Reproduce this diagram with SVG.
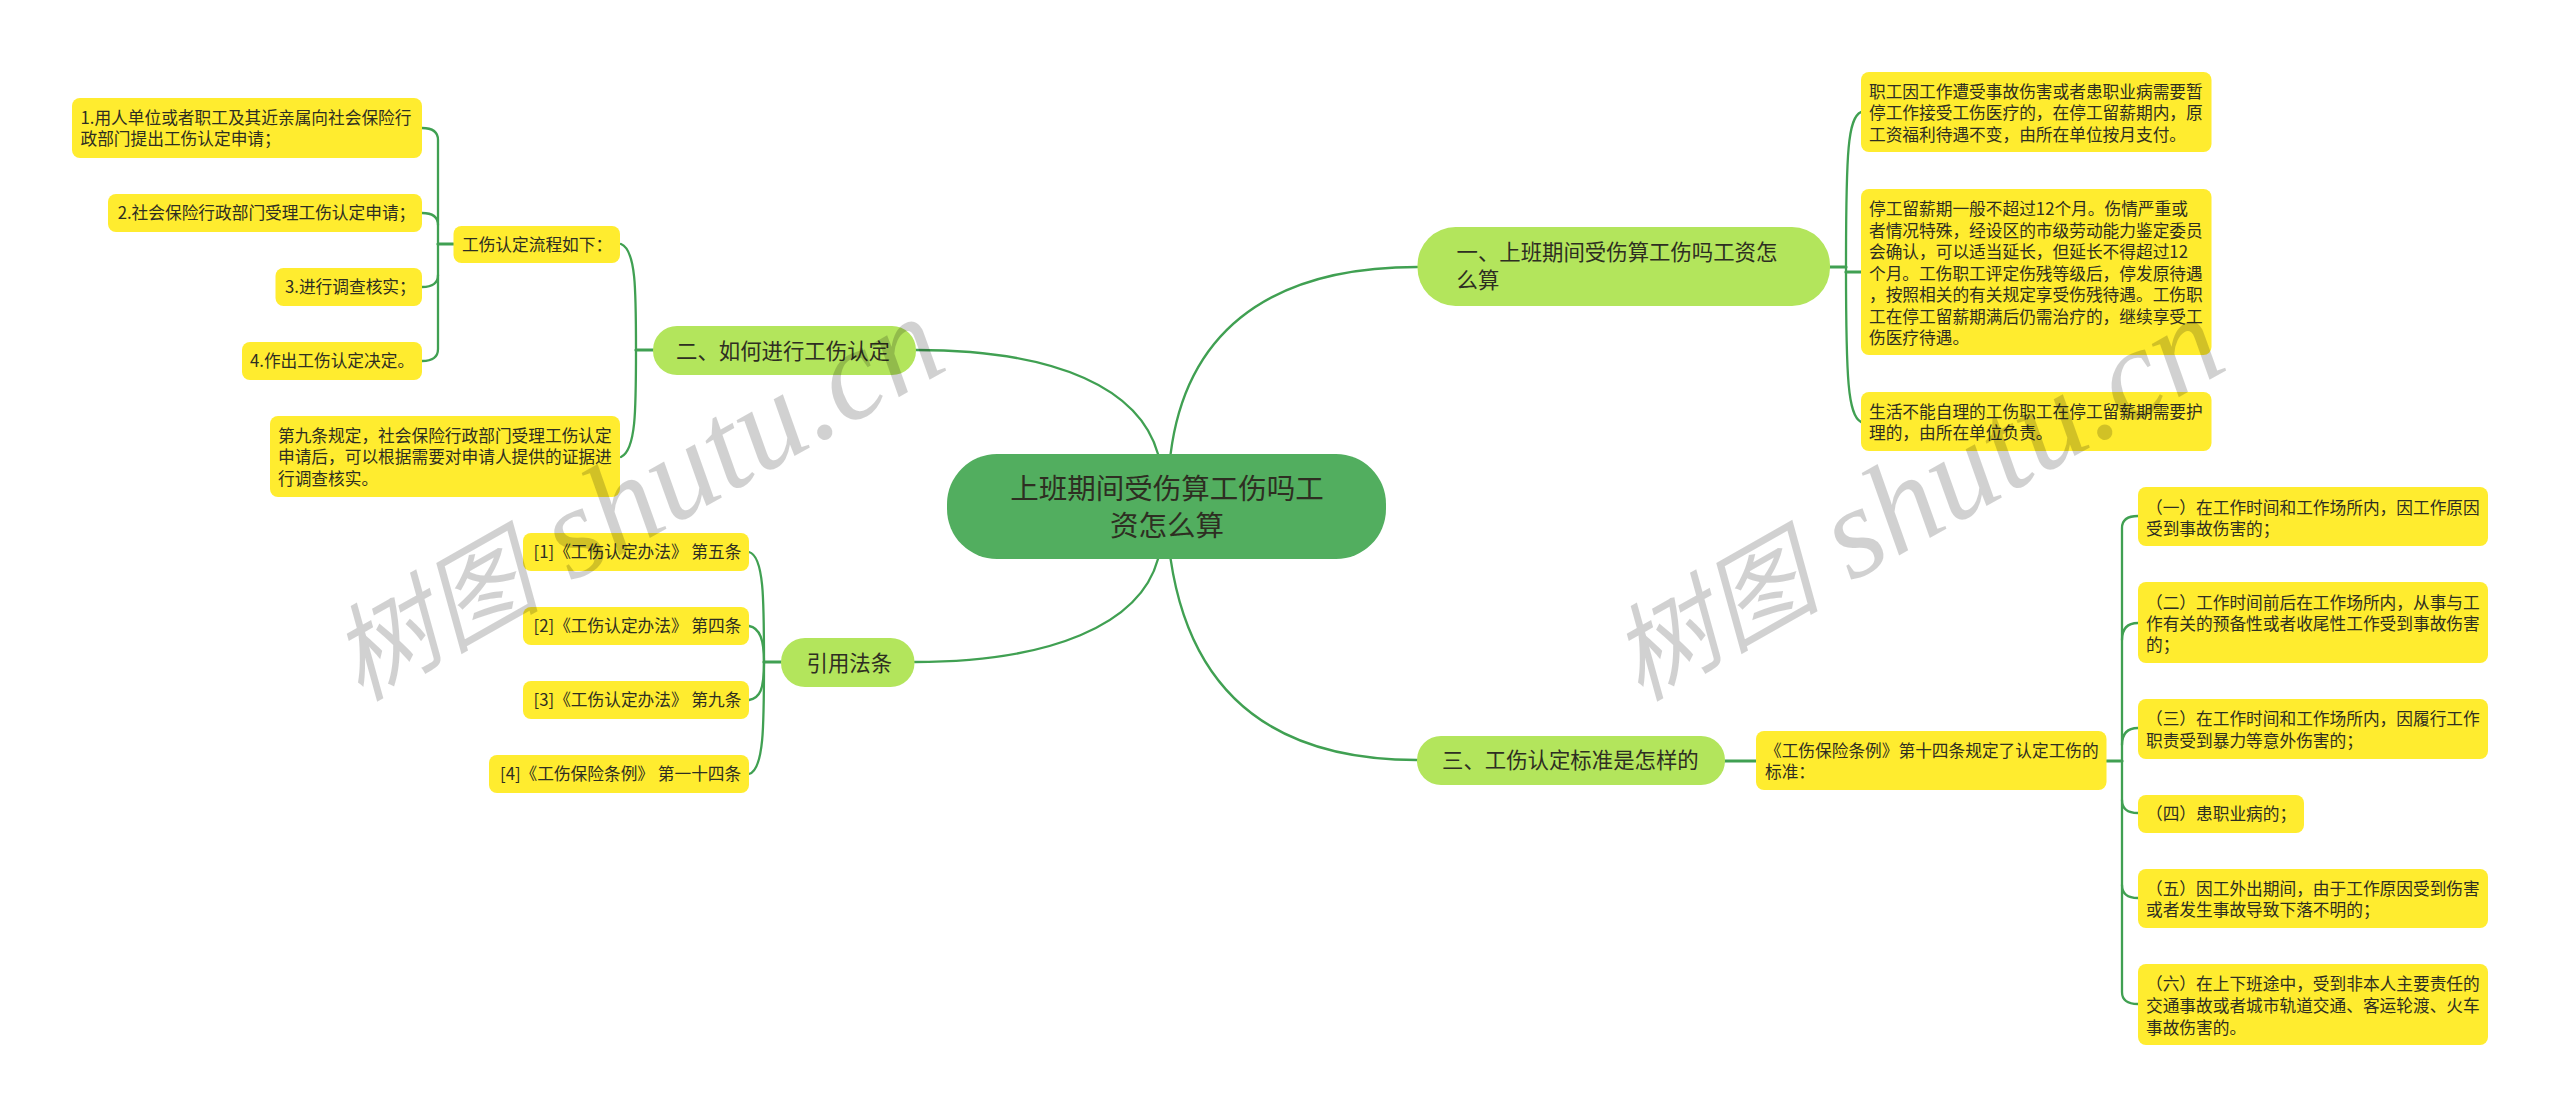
<svg xmlns="http://www.w3.org/2000/svg" width="2560" height="1117" viewBox="0 0 2560 1117">
<style>
text{font-family:"Noto Sans CJK SC","Noto Sans",sans-serif;fill:#2E2E22;}
.y{fill:#FFEC2F;}
.g{fill:#B3E55C;}
.r{fill:#52AE5F;}
.s text{font-size:16.7px;}
.m text{font-size:21.4px;}
.t text{font-size:28.5px;}
#connectors path{fill:none;stroke:#40A052;stroke-width:2.300;stroke-linecap:round;}
#connectors path.k{stroke-width:3.200;}
.wm{font-family:"Liberation Serif","Noto Sans CJK SC",serif;font-style:italic;font-size:130px;fill:#000;fill-opacity:.18;}
.wm tspan{font-size:105px;font-family:"Noto Sans CJK SC",serif;}
</style>
<rect width="2560" height="1117" fill="#fff"/>
<g id="connectors">
<path d="M1158,454C1140,390 1060,350 916,350"/>
<path d="M1158,559C1140,625 1050,662 914.5,662"/>
<path d="M1170.6,454C1185,340 1260,267 1417.5,267"/>
<path d="M1170.6,559C1190,690 1270,760 1417,760"/>
<path d="M422,128Q438,128 438,140V349Q438,361 422,361"/>
<path d="M422,213Q438,213 438,225"/>
<path d="M422,287Q438,287 438,275"/>
<path class="k" d="M438,244H453.500"/>
<path d="M621,244C636,250 636,290 636,350C636,410 636,450 621,457"/>
<path class="k" d="M636,350H653"/>
<path d="M749,552C764,556 764,600 764,662C764,725 764,770 749,774"/>
<path d="M749,626C760,628 764,640 764,662"/>
<path d="M749,700C760,698 764,690 764,662"/>
<path class="k" d="M764,662H781"/>
<path d="M1861,112C1848,118 1846,150 1846,267C1846,380 1848,415 1861,422"/>
<path class="k" d="M1830,267H1846"/>
<path class="k" d="M1846,272H1861"/>
<path d="M2138,516Q2122,516 2122,528V992Q2122,1004 2138,1004"/>
<path d="M2138,623Q2122,623 2122,640"/>
<path d="M2138,728Q2122,728 2122,745"/>
<path d="M2138,813Q2122,813 2122,800"/>
<path d="M2138,898Q2122,898 2122,885"/>
<path class="k" d="M2106.500,761H2122"/>
<path class="k" d="M1725,761H1756"/>
</g>
<g id="root" class="t"><rect class="r" x="947" y="454" width="439" height="105" rx="50"/>
<text x="1167" y="499" text-anchor="middle">上班期间受伤算工伤吗工</text><text x="1167" y="536" text-anchor="middle">资怎么算</text></g>
<g id="b1" class="m"><rect class="g" x="1417.500" y="227" width="412.500" height="79" rx="38"/>
<text x="1456.500" y="260">一、上班期间受伤算工伤吗工资怎</text><text x="1456.500" y="288">么算</text></g>
<g id="b2" class="m"><rect class="g" x="653" y="326" width="263" height="49" rx="24"/>
<text x="676" y="359">二、如何进行工伤认定</text></g>
<g id="b3" class="m"><rect class="g" x="1417" y="736" width="308" height="49" rx="24"/>
<text x="1442" y="768">三、工伤认定标准是怎样的</text></g>
<g id="b4" class="m"><rect class="g" x="781" y="638" width="133.500" height="49" rx="24"/>
<text x="806.500" y="671">引用法条</text></g>
<g id="n-a1" class="s"><rect class="y" x="1861" y="72" width="350.500" height="80" rx="8"/>
<text x="1869" y="98">职工因工作遭受事故伤害或者患职业病需要暂</text><text x="1869" y="119">停工作接受工伤医疗的，在停工留薪期内，原</text><text x="1869" y="141">工资福利待遇不变，由所在单位按月支付。</text></g>
<g id="n-a2" class="s"><rect class="y" x="1861" y="189" width="350.500" height="166" rx="8"/>
<text x="1869" y="215">停工留薪期一般不超过12个月。伤情严重或</text><text x="1869" y="236.500">者情况特殊，经设区的市级劳动能力鉴定委员</text><text x="1869" y="258">会确认，可以适当延长，但延长不得超过12</text><text x="1869" y="279.500">个月。工伤职工评定伤残等级后，停发原待遇</text><text x="1869" y="301">，按照相关的有关规定享受伤残待遇。工伤职</text><text x="1869" y="322.500">工在停工留薪期满后仍需治疗的，继续享受工</text><text x="1869" y="344">伤医疗待遇。</text></g>
<g id="n-a3" class="s"><rect class="y" x="1861" y="392" width="350.500" height="59" rx="8"/>
<text x="1869" y="418">生活不能自理的工伤职工在停工留薪期需要护</text><text x="1869" y="439">理的，由所在单位负责。</text></g>
<g id="n-b0" class="s"><rect class="y" x="453.500" y="226" width="166.500" height="37" rx="8"/>
<text x="462" y="251">工伤认定流程如下：</text></g>
<g id="n-b1" class="s"><rect class="y" x="72" y="98" width="350" height="60" rx="8"/>
<text x="80.500" y="124">1.用人单位或者职工及其近亲属向社会保险行</text><text x="80.500" y="145">政部门提出工伤认定申请；</text></g>
<g id="n-b2" class="s"><rect class="y" x="108" y="194" width="314" height="38" rx="8"/>
<text x="117.700" y="219">2.社会保险行政部门受理工伤认定申请；</text></g>
<g id="n-b3" class="s"><rect class="y" x="275.500" y="268" width="146.500" height="38" rx="8"/>
<text x="285" y="293">3.进行调查核实；</text></g>
<g id="n-b4" class="s"><rect class="y" x="242" y="342" width="180" height="38" rx="8"/>
<text x="250" y="367">4.作出工伤认定决定。</text></g>
<g id="n-b5" class="s"><rect class="y" x="270" y="416" width="350" height="81" rx="8"/>
<text x="278" y="442">第九条规定，社会保险行政部门受理工伤认定</text><text x="278" y="463">申请后，可以根据需要对申请人提供的证据进</text><text x="278" y="485">行调查核实。</text></g>
<g id="n-c1" class="s"><rect class="y" x="523" y="533" width="226" height="38" rx="8"/>
<text x="533.600" y="558">[1]《工伤认定办法》 第五条</text></g>
<g id="n-c2" class="s"><rect class="y" x="523" y="607" width="226" height="38" rx="8"/>
<text x="533.600" y="632">[2]《工伤认定办法》 第四条</text></g>
<g id="n-c3" class="s"><rect class="y" x="523" y="681" width="226" height="38" rx="8"/>
<text x="533.600" y="706">[3]《工伤认定办法》 第九条</text></g>
<g id="n-c4" class="s"><rect class="y" x="489" y="755" width="260" height="38" rx="8"/>
<text x="500" y="780">[4]《工伤保险条例》 第一十四条</text></g>
<g id="n-d0" class="s"><rect class="y" x="1756" y="731" width="350.500" height="59" rx="8"/>
<text x="1765" y="757">《工伤保险条例》第十四条规定了认定工伤的</text><text x="1765" y="778">标准：</text></g>
<g id="n-d1" class="s"><rect class="y" x="2138" y="487" width="350" height="59" rx="8"/>
<text x="2146" y="514">（一）在工作时间和工作场所内，因工作原因</text><text x="2146" y="535">受到事故伤害的；</text></g>
<g id="n-d2" class="s"><rect class="y" x="2138" y="582" width="350" height="81" rx="8"/>
<text x="2146" y="609">（二）工作时间前后在工作场所内，从事与工</text><text x="2146" y="630">作有关的预备性或者收尾性工作受到事故伤害</text><text x="2146" y="651">的；</text></g>
<g id="n-d3" class="s"><rect class="y" x="2138" y="699" width="350" height="60" rx="8"/>
<text x="2146" y="725">（三）在工作时间和工作场所内，因履行工作</text><text x="2146" y="747">职责受到暴力等意外伤害的；</text></g>
<g id="n-d4" class="s"><rect class="y" x="2138" y="795" width="166" height="38" rx="8"/>
<text x="2146" y="820">（四）患职业病的；</text></g>
<g id="n-d5" class="s"><rect class="y" x="2138" y="869" width="350" height="59" rx="8"/>
<text x="2146" y="895">（五）因工外出期间，由于工作原因受到伤害</text><text x="2146" y="916">或者发生事故导致下落不明的；</text></g>
<g id="n-d6" class="s"><rect class="y" x="2138" y="964" width="350" height="81" rx="8"/>
<text x="2146" y="990">（六）在上下班途中，受到非本人主要责任的</text><text x="2146" y="1012">交通事故或者城市轨道交通、客运轮渡、火车</text><text x="2146" y="1034">事故伤害的。</text></g>
<text class="wm" transform="translate(360,702) rotate(-29.500)"><tspan>树图</tspan> shutu.cn</text>
<text class="wm" transform="translate(1640,702) rotate(-29.500)"><tspan>树图</tspan> shutu.cn</text>
</svg>
